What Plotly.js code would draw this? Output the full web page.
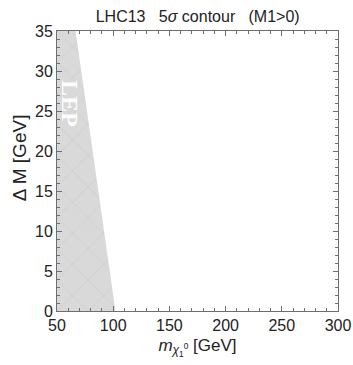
<!DOCTYPE html>
<html><head><meta charset="utf-8">
<script src="https://cdn.plot.ly/plotly-3.0.1.min.js"></script>
<style>html,body{margin:0;padding:0;background:#fff}#plot{width:353px;height:365px}</style>
</head><body><div id="plot"></div>
<script>
// LEP excluded region boundary (m_chi in GeV, Delta M in GeV)
var lepX = [50, 50, 66.5, 102, 50];
var lepY = [0, 35, 35, 0, 0];
var lepLabel = "LEP";
var lepLabelPos = [61.6, 26];
var xTicks = [50, 100, 150, 200, 250, 300];
var yTicks = [0, 5, 10, 15, 20, 25, 30, 35];

var trace = {
  x: lepX, y: lepY, type: 'scatter', mode: 'lines',
  fill: 'toself', fillcolor: 'rgb(217,217,217)',
  fillpattern: {shape: 'x', fgcolor: 'rgba(150,150,150,0.4)', bgcolor: 'rgb(217,217,217)', size: 22, solidity: 0.03},
  line: {width: 0, color: 'rgba(0,0,0,0)'},
  hoverinfo: 'skip', showlegend: false
};

var axisCommon = {
  showgrid: false, zeroline: false, showline: true, linecolor: '#6e6e6e', linewidth: 1,
  mirror: 'ticks', ticks: 'inside', ticklen: 5, tickcolor: '#6e6e6e',
  tickfont: {family: 'Liberation Sans, Arial, sans-serif', size: 16, color: '#222'}
};

var layout = {
  width: 353, height: 365,
  margin: {l: 57, r: 15, t: 31, b: 54},
  paper_bgcolor: '#fff', plot_bgcolor: '#fff',
  font: {family: 'Liberation Sans, Arial, sans-serif', color: '#222'},
  title: {text: 'LHC13   5<i>σ</i> contour   (M1>0)', font: {size: 16, color: '#222'}, x: 0.56, xanchor: 'center', y: 0.955, yanchor: 'middle'},
  xaxis: Object.assign({}, axisCommon, {
    range: [50, 300], tickvals: xTicks, ticktext: xTicks.map(String),
    minor: {dtick: 10, ticks: 'inside', ticklen: 3, tickcolor: '#6e6e6e'},
    title: {text: '<i>m</i><sub><i>χ</i><sub>1</sub><sup>0</sup></sub> [GeV]', font: {size: 17, color: '#222'}, standoff: 5}
  }),
  yaxis: Object.assign({}, axisCommon, {
    range: [0, 35], tickvals: yTicks, ticktext: yTicks.map(String),
    minor: {dtick: 1, ticks: 'inside', ticklen: 3, tickcolor: '#6e6e6e'}
  }),
  annotations: [{
    x: lepLabelPos[0], y: lepLabelPos[1], xref: 'x', yref: 'y', text: '<b>' + lepLabel + '</b>', showarrow: false,
    textangle: 90, font: {family: 'Liberation Serif, Times New Roman, serif', size: 24, color: 'rgba(255,255,255,0.95)'}
  }, {
    x: -0.135, y: 0.546, xref: 'paper', yref: 'paper', text: 'Δ M [GeV]', showarrow: false,
    textangle: -90, xanchor: 'center', yanchor: 'middle',
    font: {family: 'Liberation Sans, Arial, sans-serif', size: 19, color: '#222'}
  }]
};

Plotly.newPlot('plot', [trace], layout, {displayModeBar: false, staticPlot: true});
</script></body></html>
